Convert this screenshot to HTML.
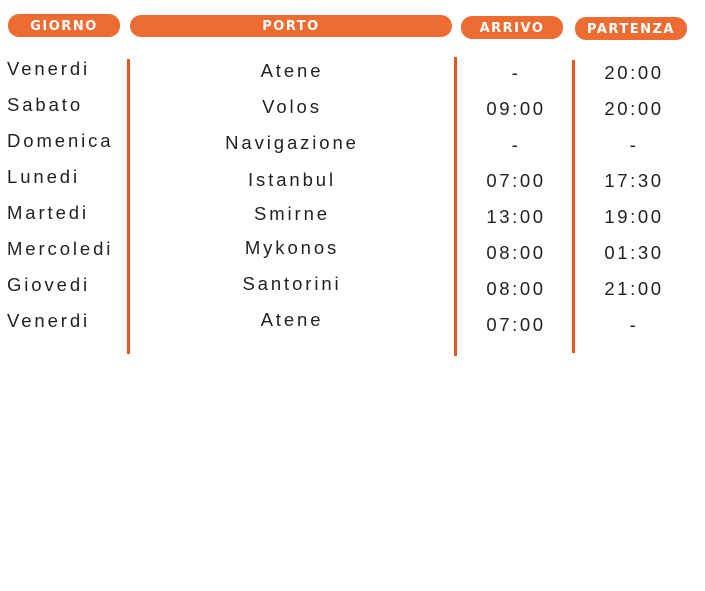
<!DOCTYPE html>
<html><head><meta charset="utf-8"><style>
body{margin:0;width:705px;height:591px;background:#fff;position:relative;overflow:hidden;font-family:"Liberation Sans",sans-serif;}
.h{position:absolute;background:#ec6c32;border-radius:11px;color:#fff;font-weight:bold;font-size:13px;letter-spacing:1.5px;display:flex;align-items:center;justify-content:center;font-family:"DejaVu Sans","Liberation Sans",sans-serif;padding-top:1px;box-sizing:border-box;}
.l{position:absolute;width:3px;background:#e4561a;}
.t{position:absolute;font-size:18.5px;letter-spacing:2.9px;color:#222;line-height:20px;white-space:nowrap;}
.c{transform:translateX(-50%);}
.n{letter-spacing:2.6px;}
</style></head><body>
<div class="h" style="left:8px;top:14px;width:112px;height:23px;">GIORNO</div>
<div class="h" style="left:130px;top:15px;width:322px;height:22px;">PORTO</div>
<div class="h" style="left:461px;top:16px;width:102px;height:23px;">ARRIVO</div>
<div class="h" style="left:575px;top:17px;width:112px;height:23px;">PARTENZA</div>
<div class="l" style="left:127px;top:59px;height:295px;"></div>
<div class="l" style="left:454px;top:57px;height:299px;"></div>
<div class="l" style="left:572px;top:60px;height:293px;"></div>

<div class="t" style="left:7px;top:59px">Venerdi</div>
<div class="t" style="left:7px;top:95px">Sabato</div>
<div class="t" style="left:7px;top:131px">Domenica</div>
<div class="t" style="left:7px;top:167px">Lunedi</div>
<div class="t" style="left:7px;top:203px">Martedi</div>
<div class="t" style="left:7px;top:239px">Mercoledi</div>
<div class="t" style="left:7px;top:275px">Giovedi</div>
<div class="t" style="left:7px;top:311px">Venerdi</div>

<div class="t c" style="left:292px;top:61px">Atene</div>
<div class="t c" style="left:292px;top:97px">Volos</div>
<div class="t c" style="left:292px;top:133px">Navigazione</div>
<div class="t c" style="left:292px;top:170px">Istanbul</div>
<div class="t c" style="left:292px;top:204px">Smirne</div>
<div class="t c" style="left:292px;top:238px">Mykonos</div>
<div class="t c" style="left:292px;top:274px">Santorini</div>
<div class="t c" style="left:292px;top:310px">Atene</div>

<div class="t c n" style="left:516px;top:63px">-</div>
<div class="t c n" style="left:516px;top:99px">09:00</div>
<div class="t c n" style="left:516px;top:135px">-</div>
<div class="t c n" style="left:516px;top:171px">07:00</div>
<div class="t c n" style="left:516px;top:207px">13:00</div>
<div class="t c n" style="left:516px;top:243px">08:00</div>
<div class="t c n" style="left:516px;top:279px">08:00</div>
<div class="t c n" style="left:516px;top:315px">07:00</div>

<div class="t c n" style="left:634px;top:63px">20:00</div>
<div class="t c n" style="left:634px;top:99px">20:00</div>
<div class="t c n" style="left:634px;top:135px">-</div>
<div class="t c n" style="left:634px;top:171px">17:30</div>
<div class="t c n" style="left:634px;top:207px">19:00</div>
<div class="t c n" style="left:634px;top:243px">01:30</div>
<div class="t c n" style="left:634px;top:279px">21:00</div>
<div class="t c n" style="left:634px;top:315px">-</div>
</body></html>
